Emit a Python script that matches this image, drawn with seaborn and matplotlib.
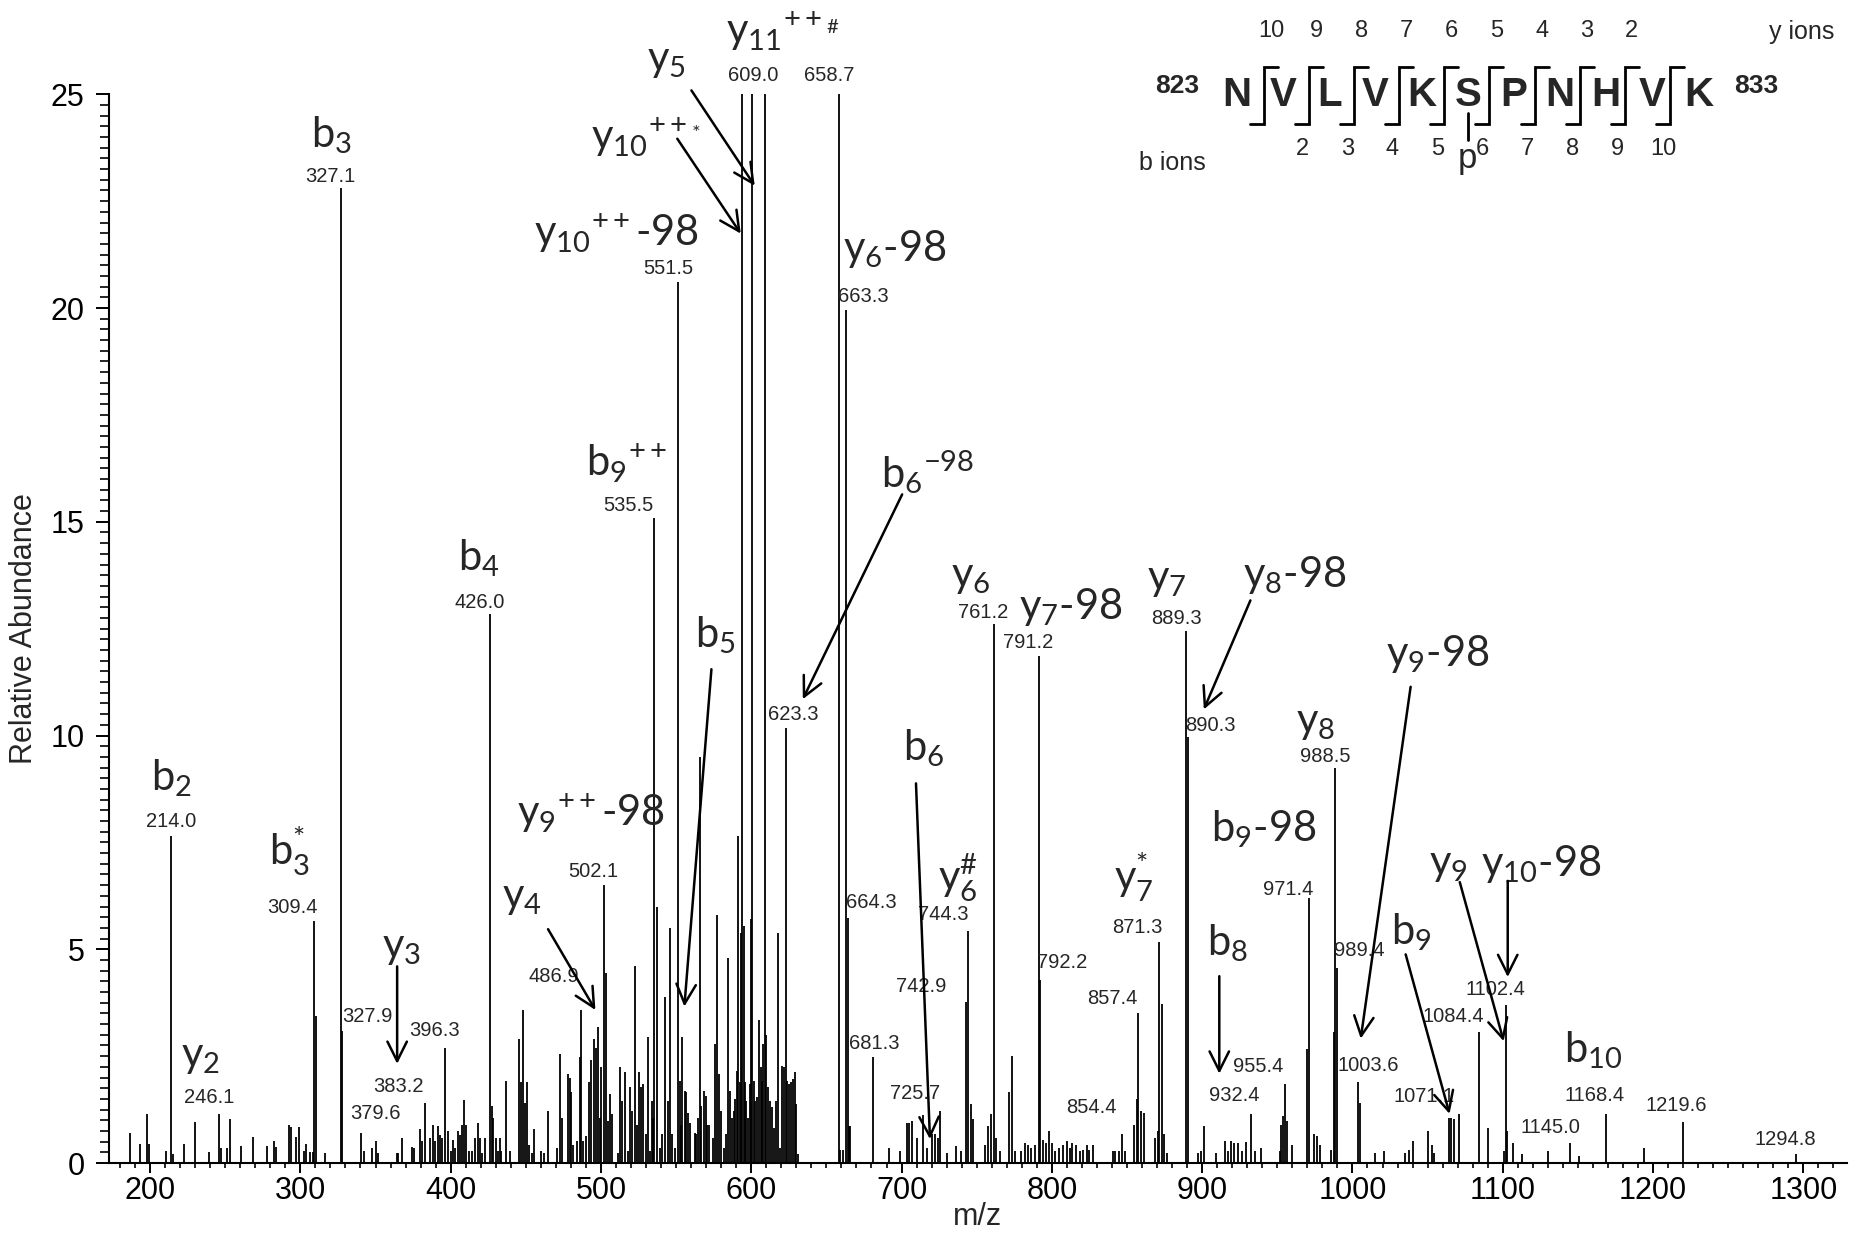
import numpy as np
import pandas as pd
import matplotlib
matplotlib.use('Agg')
import matplotlib.pyplot as plt
from matplotlib.ticker import MultipleLocator
import seaborn as sns

# peaks, split in three m/z windows
mz_1 = [186.7, 193.0, 198.1, 199.2, 210.7, 214.0, 215.5, 222.9, 229.7, 238.9,
        246.1, 246.9, 251.4, 253.3, 260.2, 268.6, 278.1, 282.3, 283.8, 292.2,
        294.1, 296.8, 299.0, 302.1, 303.6, 306.7, 308.6, 309.4, 310.4, 316.6,
        327.1, 327.9, 340.2, 342.1, 347.8, 350.5, 351.6, 364.0, 365.1, 367.6,
        374.3, 375.4, 379.6, 380.9, 383.2, 386.3, 388.0, 389.5, 391.4, 392.9,
        394.5, 396.3, 398.1, 400.0, 401.3, 403.2, 405.1, 406.3, 407.4, 408.9,
        410.0, 412.2, 414.1, 416.0, 418.3, 419.8, 421.0, 422.9, 426.0, 427.2,
        428.5, 430.0, 431.5]
ab_1 = [0.70, 0.45, 1.15, 0.45, 0.27, 7.66, 0.21, 0.45, 0.96, 0.25,
        1.15, 0.35, 0.35, 1.03, 0.39, 0.61, 0.39, 0.52, 0.38, 0.90,
        0.84, 0.61, 0.84, 0.27, 0.45, 0.26, 0.26, 5.65, 3.45, 0.23,
        22.8, 3.10, 0.70, 0.27, 0.35, 0.52, 0.23, 0.24, 0.24, 0.59,
        0.38, 0.35, 0.80, 0.51, 1.41, 0.59, 0.88, 0.51, 0.86, 0.66,
        0.59, 2.70, 0.74, 0.27, 0.55, 0.35, 0.74, 0.66, 0.90, 1.48,
        0.90, 0.27, 0.27, 0.59, 0.94, 0.59, 0.23, 0.59, 12.84, 1.33,
        1.05, 0.59, 0.27]

mz_2 = [433.1, 433.8, 436.7, 439.3, 445.6, 446.9, 448.2, 449.3, 450.9, 452.2,
        453.8, 455.3, 460.4, 462.0, 465.1, 471.0, 473.0, 473.9, 478.1, 479.2,
        480.4, 481.5, 484.1, 485.9, 486.9, 488.1, 490.3, 492.1, 493.6, 495.2,
        496.5, 497.9, 499.2, 500.3, 502.1, 503.2, 504.7, 505.8, 507.6, 511.6,
        512.9, 514.3, 515.8, 518.0, 519.1, 520.5, 522.5, 524.0, 525.3, 526.9,
        528.0, 529.8, 531.3, 532.4, 533.8, 534.6, 535.5, 537.1, 539.1, 540.6,
        542.8, 544.6, 545.7, 547.5, 549.0, 551.5, 552.3, 553.0, 554.2, 555.7,
        556.8, 557.9, 559.0, 562.4, 563.5, 564.6, 565.7, 566.4, 568.3, 569.7,
        570.6, 571.9, 574.5, 575.7, 577.2, 578.5, 580.1, 581.9, 583.0, 584.7,
        586.1, 587.2, 588.3, 589.4, 590.5, 591.4, 592.3, 593.4, 594.1, 594.9,
        595.8, 596.7, 597.8, 598.9, 599.6, 600.5, 601.8, 602.7, 604.0, 605.1,
        606.2, 607.1, 607.8, 609.0, 610.0, 611.1, 612.2, 614.0, 615.1, 616.2,
        617.8, 618.9, 620.6, 621.7, 623.3, 624.0, 625.1, 626.6, 627.7, 629.3,
        630.0, 631.1]
ab_2 = [0.59, 0.28, 1.92, 0.28, 2.90, 1.90, 3.57, 1.41, 1.89, 0.43,
        0.24, 0.79, 0.28, 0.24, 1.22, 0.35, 2.55, 1.06, 2.08, 2.00,
        1.65, 0.43, 0.51, 2.47, 3.57, 0.51, 0.63, 1.89, 2.40, 2.90,
        2.70, 3.18, 1.06, 2.24, 6.50, 4.44, 0.98, 1.61, 1.14, 0.24,
        2.24, 1.45, 2.12, 0.28, 1.77, 1.22, 4.60, 0.90, 2.12, 1.77,
        1.85, 0.67, 2.95, 0.28, 1.45, 1.06, 15.09, 6.00, 0.35, 0.67,
        3.89, 1.45, 5.50, 0.67, 0.35, 20.6, 1.92, 0.90, 2.95, 1.69,
        1.65, 1.18, 0.94, 0.71, 0.67, 1.06, 9.50, 1.33, 1.69, 1.57,
        0.90, 0.90, 0.59, 2.79, 5.81, 2.08, 1.22, 0.35, 0.67, 4.79,
        1.69, 1.06, 1.22, 1.49, 2.16, 7.66, 1.89, 5.38, 40.0, 5.54,
        1.89, 1.45, 1.06, 1.85, 5.70, 45.0, 1.92, 1.45, 1.55, 3.34,
        2.24, 1.92, 2.79, 55.0, 3.00, 1.77, 1.45, 1.30, 0.82, 1.45,
        5.38, 0.35, 2.28, 2.24, 10.18, 1.92, 1.85, 1.89, 1.97, 2.12,
        1.37, 0.20]

mz_3 = [658.7, 659.1, 660.9, 663.3, 664.3, 665.0, 665.9, 681.3, 691.6, 698.7,
        703.6, 705.1, 707.1, 710.3, 714.4, 717.2, 720.0, 722.5, 724.1, 725.7,
        730.5, 736.2, 739.4, 742.9, 744.3, 745.9, 747.5, 755.6, 757.6, 759.6,
        761.2, 762.8, 765.7, 771.7, 773.3, 775.8, 779.8, 782.2, 784.2, 785.9,
        788.7, 791.2, 792.2, 794.3, 795.9, 798.0, 800.0, 802.4, 804.8, 807.3,
        810.1, 812.1, 813.7, 816.2, 818.6, 821.0, 823.4, 825.0, 827.5, 840.4,
        842.0, 844.4, 846.4, 848.5, 854.4, 856.5, 857.4, 859.4, 861.4, 868.7,
        870.7, 871.3, 873.1, 874.7, 876.7, 889.3, 890.3, 896.9, 898.9, 901.0,
        909.0, 915.1, 917.1, 919.1, 921.2, 924.0, 926.4, 929.2, 932.4, 935.3,
        939.3, 951.5, 952.7, 954.1, 955.4, 956.2, 959.5, 969.6, 971.4, 974.5,
        976.5, 978.5, 985.8, 987.8, 988.5, 989.4, 1003.6, 1004.8, 1014.9, 1020.9,
        1035.1, 1037.5, 1040.3, 1050.4, 1053.2, 1054.4, 1064.5, 1065.8, 1067.4, 1071.1,
        1084.4, 1090.0, 1100.9, 1102.4, 1102.9, 1106.9, 1113.0, 1130.4, 1145.0, 1150.6,
        1168.4, 1193.8, 1219.6, 1294.8]
ab_3 = [100.0, 0.31, 0.31, 19.96, 5.73, 0.86, 0.86, 2.47, 0.35, 0.28,
        0.94, 0.94, 0.98, 0.59, 1.13, 0.35, 0.67, 0.67, 0.59, 1.22,
        0.24, 0.39, 0.28, 3.77, 5.42, 1.37, 1.02, 0.43, 0.86, 1.14,
        12.6, 0.59, 0.28, 1.65, 2.51, 0.28, 0.28, 0.47, 0.43, 0.35,
        0.43, 11.87, 4.28, 0.55, 0.47, 0.75, 0.47, 0.28, 0.35, 0.43,
        0.51, 0.35, 0.47, 0.43, 0.28, 0.31, 0.43, 0.31, 0.43, 0.28,
        0.29, 0.28, 0.67, 0.28, 0.90, 1.49, 3.50, 1.22, 1.18, 0.59,
        0.75, 5.16, 3.73, 0.67, 0.24, 12.45, 9.97, 0.24, 0.28, 0.86,
        0.24, 0.51, 0.29, 0.51, 0.47, 0.47, 0.28, 0.49, 1.15, 0.28,
        0.35, 0.28, 0.90, 1.10, 1.85, 0.98, 0.43, 2.67, 6.20, 0.67,
        0.63, 0.43, 0.31, 3.06, 9.25, 4.56, 1.89, 1.41, 0.24, 0.28,
        0.24, 0.31, 0.51, 0.75, 0.43, 0.24, 1.06, 1.06, 1.02, 1.15,
        3.06, 0.82, 0.28, 3.70, 0.75, 0.47, 0.20, 0.28, 0.47, 0.16,
        1.15, 0.35, 0.97, 0.20]

# fragment ion names (text, m/z, abundance where the label sits)
ion_labels = [
    (r'$\mathrm{b}_{2}$', 214.3, 9.0),
    (r'$\mathrm{y}_{2}$', 233.8, 2.48),
    (r'$\mathrm{b}_{3}^{*}$', 292.9, 7.3),
    (r'$\mathrm{b}_{3}$', 320.8, 24.04),
    (r'$\mathrm{y}_{3}$', 367.4, 5.03),
    (r'$\mathrm{b}_{4}$', 418.6, 14.15),
    (r'$\mathrm{y}_{4}$', 447.3, 6.2),
    (r'$\mathrm{y}_{9}{}^{\mathrm{++}}$-98', 493.7, 8.18),
    (r'$\mathrm{b}_{9}{}^{\mathrm{++}}$', 516.9, 16.37),
    (r'$\mathrm{y}_{10}{}^{\mathrm{++}}$-98', 510.2, 21.76),
    (r'$\mathrm{y}_{10}{}^{\mathrm{++}_{*}}$', 530.2, 24.0),
    (r'$\mathrm{y}_{5}$', 543.5, 25.77),
    (r'$\mathrm{y}_{11}{}^{\mathrm{++}_{\#}}$', 621.1, 26.48),
    (r'$\mathrm{y}_{6}$-98', 695.3, 21.37),
    (r'$\mathrm{b}_{6}{}^{\mathrm{-98}}$', 717.5, 16.15),
    (r'$\mathrm{b}_{5}$', 576.3, 12.34),
    (r'$\mathrm{b}_{6}$', 714.6, 9.71),
    (r'$\mathrm{y}_{6}$', 746.4, 13.71),
    (r'$\mathrm{y}_{7}$-98', 812.5, 13.0),
    (r'$\mathrm{y}_{6}^{\#}$', 737.5, 6.68),
    (r'$\mathrm{y}_{7}$', 876.2, 13.64),
    (r'$\mathrm{y}_{8}$-98', 961.4, 13.75),
    (r'$\mathrm{y}_{7}^{*}$', 854.6, 6.68),
    (r'$\mathrm{b}_{8}$', 917.0, 5.15),
    (r'$\mathrm{y}_{8}$', 975.4, 10.30),
    (r'$\mathrm{b}_{9}$-98', 941.0, 7.82),
    (r'$\mathrm{y}_{9}$-98', 1056.5, 11.91),
    (r'$\mathrm{b}_{9}$', 1039.5, 5.4),
    (r'$\mathrm{y}_{9}$', 1063.7, 6.96),
    (r'$\mathrm{y}_{10}$-98', 1125.5, 7.0),
    (r'$\mathrm{b}_{10}$', 1160.0, 2.65),
]

# m/z value labels
mz_labels = [
    ('214.0', 214.3, 7.99), ('246.1', 239.2, 1.54), ('309.4', 294.9, 5.98),
    ('327.1', 319.7, 23.07), ('327.9', 344.5, 3.42), ('379.6', 350.2, 1.16),
    ('383.2', 365.5, 1.79), ('396.3', 389.5, 3.09), ('426.0', 419.5, 13.1),
    ('486.9', 468.4, 4.36), ('502.1', 494.8, 6.82), ('535.5', 518.0, 15.38),
    ('551.5', 544.6, 20.92), ('609.0', 601.1, 25.45), ('658.7', 651.7, 25.45),
    ('663.3', 674.3, 20.27), ('623.3', 627.7, 10.49), ('664.3', 679.8, 6.09),
    ('681.3', 682.0, 2.80), ('725.7', 709.3, 1.62), ('742.9', 712.8, 4.12),
    ('744.3', 727.5, 5.82), ('761.2', 754.0, 12.87), ('791.2', 784.1, 12.17),
    ('792.2', 807.0, 4.68), ('854.4', 826.1, 1.30), ('857.4', 840.3, 3.86),
    ('871.3', 856.8, 5.50), ('889.3', 882.6, 12.73), ('890.3', 905.5, 10.24),
    ('932.4', 921.4, 1.58), ('955.4', 937.1, 2.26), ('971.4', 957.1, 6.40),
    ('988.5', 981.8, 9.51), ('989.4', 1004.8, 4.98), ('1003.6', 1010.2, 2.29),
    ('1071.1', 1048.0, 1.55), ('1084.4', 1067.0, 3.43), ('1102.4', 1095.2, 4.05),
    ('1145.0', 1131.5, 0.83), ('1168.4', 1161.3, 1.58), ('1219.6', 1215.6, 1.34),
    ('1294.8', 1288.0, 0.56),
]

# arrows from ion names to their peaks (start m/z, start ab, end m/z, end ab)
arrows = [
    (364.4, 4.60, 364.4, 2.32), (464.8, 5.47, 496.3, 3.58),
    (573.5, 11.55, 555.5, 3.66), (550.8, 23.96, 593.0, 21.74),
    (560.2, 25.09, 602.3, 22.86), (700.4, 15.64, 634.3, 10.85),
    (709.6, 8.88, 718.9, 0.56), (932.1, 13.16, 901.1, 10.61),
    (911.4, 4.37, 911.4, 2.09), (1038.7, 11.14, 1005.5, 2.91),
    (1035.4, 4.88, 1064.6, 1.15), (1071.4, 6.57, 1100.6, 2.85),
    (1103.3, 6.6, 1103.3, 4.35),
]

residues = ['N', 'V', 'L', 'V', 'K', 'S', 'P', 'N', 'H', 'V', 'K']
y_numbers = ['10', '9', '8', '7', '6', '5', '4', '3', '2']
b_numbers = ['2', '3', '4', '5', '6', '7', '8', '9', '10']

sns.set_style('ticks')
plt.rcParams['font.family'] = ['Liberation Sans', 'DejaVu Sans']
plt.rcParams['mathtext.fontset'] = 'custom'
plt.rcParams['mathtext.rm'] = 'Lato'
plt.rcParams['mathtext.it'] = 'Lato:italic'
plt.rcParams['mathtext.bf'] = 'Lato:bold'
plt.rcParams['axes.linewidth'] = 1.5
plt.rcParams['axes.edgecolor'] = 'black'
plt.rcParams['xtick.color'] = 'black'
plt.rcParams['ytick.color'] = 'black'

spectrum = pd.DataFrame({'mz': mz_1 + mz_2 + mz_3,
                         'abundance': ab_1 + ab_2 + ab_3})

fig = plt.figure(figsize=(18.54, 12.37), dpi=100)
ax = fig.add_axes([0.0588, 0.0598, 0.9374, 0.8640])
ax.vlines(spectrum['mz'], 0, spectrum['abundance'], colors='black', linewidth=1.3)

ax.set_xlim(172.7, 1329)
ax.set_ylim(0, 25)
ax.xaxis.set_major_locator(MultipleLocator(100))
ax.xaxis.set_minor_locator(MultipleLocator(10))
ax.yaxis.set_major_locator(MultipleLocator(5))
ax.yaxis.set_minor_locator(MultipleLocator(0.25))
ax.tick_params(axis='x', which='major', length=7.5, width=1.4, labelsize=22, pad=2)
ax.tick_params(axis='x', which='minor', length=3.8, width=1.2)
ax.tick_params(axis='y', which='major', length=9.5, width=1.4, labelsize=22, pad=8)
ax.tick_params(axis='y', which='minor', length=6.5, width=1.2)
ax.set_xlabel('m/z', fontsize=22, labelpad=-3)
ax.set_ylabel('Relative Abundance', fontsize=22, labelpad=8)
sns.despine(ax=ax)

for txt, x, y in ion_labels:
    ax.text(x, y, txt, fontsize=30, family='Lato', ha='center', va='center')
for txt, x, y in mz_labels:
    ax.text(x, y, txt, fontsize=14.5, ha='center', va='center')
for x0, y0, x1, y1 in arrows:
    ax.annotate('', xy=(x1, y1), xytext=(x0, y0), annotation_clip=False,
                arrowprops=dict(arrowstyle='->,head_length=0.5,head_width=0.25',
                                lw=1.8, color='black', shrinkA=0, shrinkB=0,
                                mutation_scale=28))

# peptide sequence with fragmentation brackets, drawn in pixel space
ov = fig.add_axes([0, 0, 1, 1], facecolor='none')
ov.set_xlim(0, 1854)
ov.set_ylim(1237, 0)
ov.axis('off')

res_x = 1237 + 46.16 * np.arange(len(residues))
cut_x = 1264 + 45.1 * np.arange(len(residues) - 1)
for r, x in zip(residues, res_x):
    ov.text(x, 106, r, fontsize=29, fontweight='bold', ha='center', va='baseline')
for x in cut_x:
    ov.plot([x - 14, x, x, x + 14], [124, 124, 67, 67], color='black', lw=2.0,
            solid_joinstyle='miter')
for n, x in zip(y_numbers, cut_x[:9]):
    ov.text(x + 7, 37, n, fontsize=17, ha='center', va='baseline')
for n, x in zip(b_numbers, cut_x[1:]):
    ov.text(x - 7, 155, n, fontsize=17, ha='center', va='baseline')
ov.plot([res_x[5], res_x[5]], [113, 140], color='black', lw=2.0)
ov.text(res_x[5], 168, 'p', fontsize=25, ha='center', va='baseline')
ov.text(1177, 93, '823', fontsize=19, fontweight='bold', ha='center', va='baseline')
ov.text(1756, 93, '833', fontsize=19, fontweight='bold', ha='center', va='baseline')
ov.text(1172, 170, 'b ions', fontsize=18, ha='center', va='baseline')
ov.text(1802, 39, 'y ions', fontsize=18, ha='center', va='baseline')

fig.savefig('out.png', dpi=100)
